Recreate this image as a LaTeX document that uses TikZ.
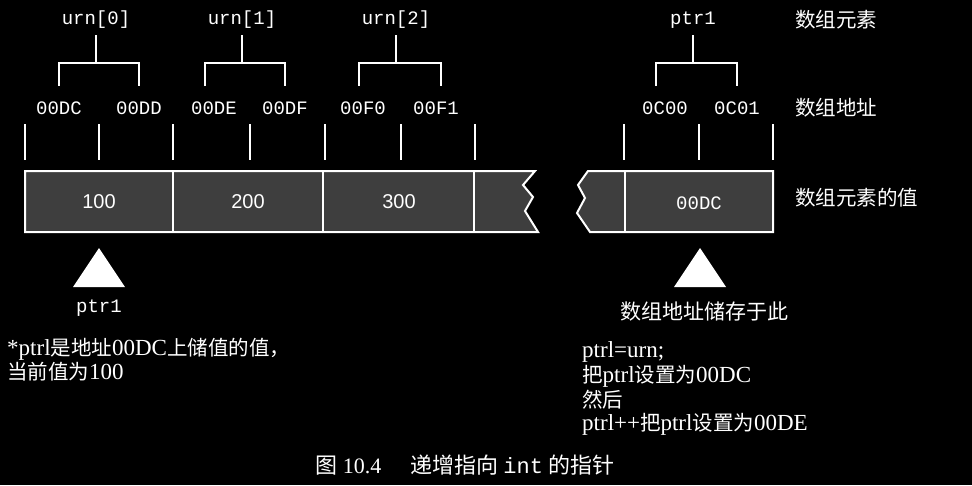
\documentclass[tikz,border=0pt]{standalone}
\usepackage{fontspec}
\setmainfont{Liberation Serif}
\setsansfont{Liberation Sans}
\setmonofont{Liberation Mono}
\newfontfamily\cjk{Noto Sans CJK SC}
\usetikzlibrary{positioning}

\definecolor{cellgray}{RGB}{62,62,62}
\newcommand{\zh}[1]{{\cjk\fontsize{20.5}{20.5}\selectfont #1}}

\tikzset{
  every node/.style={text=white, inner sep=0pt},
  elem/.style={font=\ttfamily\fontsize{19}{19}\selectfont},
  addr/.style={font=\ttfamily\fontsize{19}{19}\selectfont},
  val/.style={font=\sffamily\fontsize{20}{20}\selectfont},
  tag/.style={anchor=west, font=\cjk\fontsize{20.5}{20.5}\selectfont},
  note/.style={anchor=west, font=\fontsize{23}{23}\selectfont},
  wline/.style={white, line width=2pt},
  cell/.style={fill=cellgray, draw=white, line width=2pt},
}

\begin{document}
\begin{tikzpicture}[x=1pt,y=1pt]
\fill[black] (0,0) rectangle (972,-485);
\useasboundingbox (0,0) rectangle (972,-485);

% element names
\node[elem] (e0) at (96,-20) {urn[0]};
\node[elem] (e1) at (242,-20) {urn[1]};
\node[elem] (e2) at (396,-20) {urn[2]};
\node[elem] (e3) at (693,-20) {ptr1};

% addresses
\node[addr] (a0) at (59,-108) {00DC};
\node[addr] (a1) at (139,-108) {00DD};
\node[addr] (a2) at (214,-108) {00DE};
\node[addr] (a3) at (285,-108) {00DF};
\node[addr] (a4) at (363,-108) {00F0};
\node[addr] (a5) at (436,-108) {00F1};
\node[addr] (a6) at (665,-108) {0C00};
\node[addr] (a7) at (737,-108) {0C01};

% brackets
\foreach \l/\m/\r in {59/96/139, 205/242/285, 359/396/441, 656/693/737}
  \draw[wline] (\l,-86) |- (\r,-63) -- (\r,-86) (\m,-63) -- (\m,-35);

% byte ticks
\foreach \x in {25,99,173,250,325,401,475,624,699,773}
  \draw[wline] (\x,-124) -- (\x,-160);

% memory cells
\filldraw[cell] (25,-171) -- (535,-171) -- (523,-185) -- (533,-197) -- (525,-211) -- (538,-232) -- (25,-232) -- cycle;
\filldraw[cell] (588,-171) -- (773,-171) -- (773,-232) -- (590,-232) -- (577,-213) -- (585,-198) -- (578,-185) -- cycle;
\foreach \x in {173,323,474,625}
  \draw[wline] (\x,-171) -- (\x,-232);

\node[val] (v0) at (99,-202) {100};
\node[val] (v1) at (248,-202) {200};
\node[val] (v2) at (399,-202) {300};
\node[addr] (v3) at (699,-203) {00DC};

% pointers
\fill[white] (99,-248) -- (125,-287) -- (73,-287) -- cycle;
\fill[white] (700,-248) -- (726,-287) -- (674,-287) -- cycle;
\node[elem] (p0) at (99,-308) {ptr1};
\node[font=\cjk\fontsize{21}{21}\selectfont] (here) at (704,-312) {数组地址储存于此};

% row tags
\node[tag] (t0) at (795,-20) {数组元素};
\node[tag] (t1) at (795,-108) {数组地址};
\node[tag] (t2) at (795,-198) {数组元素的值};

% notes
\node[note] (n0) at (7,-349) {*ptrl\zh{是地址}00DC\zh{上储值的值，}};
\node[note] (n1) at (7,-372) {\zh{当前值为}100};
\node[note] (m0) at (582,-352) {ptrl=urn;};
\node[note] (m1) at (582,-376) {\zh{把}ptrl\zh{设置为}00DC};
\node[note] (m2) at (582,-400) {\zh{然后}};
\node[note] (m3) at (582,-424) {ptrl++\zh{把}ptrl\zh{设置为}00DE};

% caption
\node[font=\fontsize{22}{22}\selectfont] (cap) at (465,-465)
  {{\cjk 图} 10.4\hspace{1.3em}{\cjk 递增指向} {\ttfamily int} {\cjk 的指针}};
\end{tikzpicture}
\end{document}
